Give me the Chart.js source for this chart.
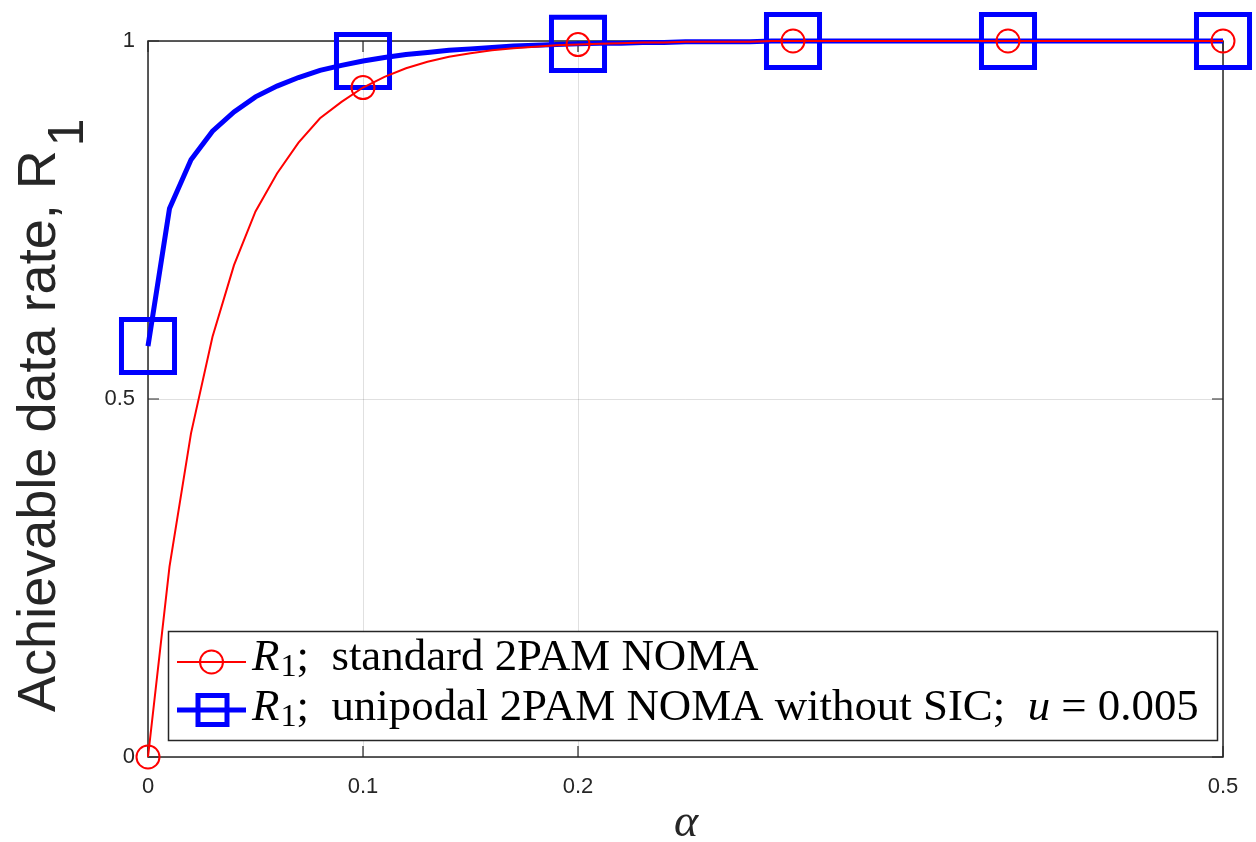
<!DOCTYPE html>
<html>
<head>
<meta charset="utf-8">
<script src="https://cdn.jsdelivr.net/npm/chart.js@4.4.1/dist/chart.umd.min.js"></script>
<style>
  html, body { margin: 0; padding: 0; background: #ffffff; }
  #wrap { width: 1256px; height: 842px; }
</style>
</head>
<body>
<div id="wrap"><canvas id="c" width="1256" height="842"></canvas></div>
<script>
// ---- data ----
const alpha = [0.00,0.01,0.02,0.03,0.04,0.05,0.06,0.07,0.08,0.09,
               0.10,0.11,0.12,0.13,0.14,0.15,0.16,0.17,0.18,0.19,
               0.20,0.21,0.22,0.23,0.24,0.25,0.26,0.27,0.28,0.29,
               0.30,0.31,0.32,0.33,0.34,0.35,0.36,0.37,0.38,0.39,
               0.40,0.41,0.42,0.43,0.44,0.45,0.46,0.47,0.48,0.49,0.50];
const r1Standard = [0.000,0.266,0.452,0.587,0.687,0.762,0.815,0.858,0.892,0.915,
                    0.935,0.950,0.962,0.971,0.978,0.983,0.987,0.990,0.992,0.994,
                    0.995,0.996,0.997,0.998,0.998,0.999,0.999,0.999,0.999,1.000,
                    1.000,1.000,1.000,1.000,1.000,1.000,1.000,1.000,1.000,1.000,
                    1.000,1.000,1.000,1.000,1.000,1.000,1.000,1.000,1.000,1.000,1.000];
const r1Unipodal = [0.574,0.766,0.834,0.874,0.901,0.922,0.937,0.949,0.959,0.966,
                    0.972,0.977,0.981,0.984,0.987,0.989,0.991,0.993,0.994,0.995,
                    0.996,0.997,0.997,0.998,0.998,0.999,0.999,0.999,0.999,1.000,
                    1.000,1.000,1.000,1.000,1.000,1.000,1.000,1.000,1.000,1.000,
                    1.000,1.000,1.000,1.000,1.000,1.000,1.000,1.000,1.000,1.000,1.000];
const xTicks = [0, 0.1, 0.2, 0.5];
const yTicks = [0, 0.5, 1];
const markerEvery = 10;
const legendRows = [
  [{t:'R', s:'i'}, {t:'1', s:'sub'}, {t:';  standard 2PAM NOMA', s:'r'}],
  [{t:'R', s:'i'}, {t:'1', s:'sub'}, {t:';  unipodal 2PAM NOMA without SIC;  ', s:'r'}, {t:'u', s:'i'}, {t:' = 0.005', s:'r'}]
];
const yTitleMain = 'Achievable data rate, R';
const yTitleSub = '1';
const xTitle = '\u03B1';

const AX = '#262626';
const RED = '#ff0000';
const BLUE = '#0000ff';

function pts(ys) { return alpha.map((a, i) => ({x: a, y: ys[i]})); }

const frame = {
  id: 'frame',
  beforeDatasetsDraw(chart) {
    const {ctx, chartArea: a, scales} = chart;
    ctx.save();
    ctx.strokeStyle = AX;
    ctx.lineWidth = 1.5;
    ctx.strokeRect(a.left, a.top, a.right - a.left, a.bottom - a.top);
    ctx.lineWidth = 1.2;
    const L = 11;
    ctx.beginPath();
    xTicks.forEach(v => {
      const px = scales.x.getPixelForValue(v);
      ctx.moveTo(px, a.bottom); ctx.lineTo(px, a.bottom - L);
      ctx.moveTo(px, a.top); ctx.lineTo(px, a.top + L);
    });
    yTicks.forEach(v => {
      const py = scales.y.getPixelForValue(v);
      ctx.moveTo(a.left, py); ctx.lineTo(a.left + L, py);
      ctx.moveTo(a.right, py); ctx.lineTo(a.right - L, py);
    });
    ctx.stroke();
    ctx.restore();
  },
  afterDraw(chart) {
    const ctx = chart.ctx;
    ctx.save();
    // y title
    ctx.translate(55, 712);
    ctx.rotate(-Math.PI / 2);
    ctx.fillStyle = AX;
    ctx.textBaseline = 'alphabetic';
    ctx.textAlign = 'left';
    ctx.font = '10px "Liberation Sans"';
    const w10 = ctx.measureText(yTitleMain).width;
    const fs = 10 * 562 / w10;
    ctx.font = fs.toFixed(2) + 'px "Liberation Sans"';
    ctx.fillText(yTitleMain, 0, 0);
    const wMain = ctx.measureText(yTitleMain).width;
    ctx.font = (fs * 0.92).toFixed(2) + 'px "Liberation Sans"';
    ctx.fillText(yTitleSub, wMain + 4, 28);
    ctx.restore();

    // x title
    ctx.save();
    ctx.fillStyle = AX;
    ctx.font = 'italic 46px "Liberation Serif"';
    ctx.textAlign = 'center';
    ctx.textBaseline = 'alphabetic';
    ctx.fillText(xTitle, 686, 836);
    ctx.restore();

    // legend
    ctx.save();
    const bx = 168.5, by = 631.5, bw = 1049, bh = 109;
    ctx.fillStyle = '#ffffff';
    ctx.fillRect(bx, by, bw, bh);
    ctx.strokeStyle = AX;
    ctx.lineWidth = 1.5;
    ctx.strokeRect(bx, by, bw, bh);
    // samples
    const rows = [662, 710];
    ctx.strokeStyle = RED; ctx.lineWidth = 2;
    ctx.beginPath(); ctx.moveTo(177, rows[0]); ctx.lineTo(246, rows[0]); ctx.stroke();
    ctx.beginPath(); ctx.arc(211.5, rows[0], 11.5, 0, Math.PI * 2); ctx.stroke();
    ctx.strokeStyle = BLUE; ctx.lineWidth = 5;
    ctx.beginPath(); ctx.moveTo(177, rows[1]); ctx.lineTo(246, rows[1]); ctx.stroke();
    ctx.lineWidth = 5;
    ctx.strokeRect(212.5 - 14.5, rows[1] - 14.5, 29, 29);
    // text
    ctx.fillStyle = '#000000';
    ctx.textAlign = 'left';
    ctx.textBaseline = 'alphabetic';
    const fontFor = (s, size) => s === 'i' ? 'italic ' + size + 'px "Liberation Serif"' :
                                 s === 'sub' ? (size * 0.72).toFixed(2) + 'px "Liberation Serif"' :
                                 size + 'px "Liberation Serif"';
    function rowWidth(row, size) {
      let w = 0;
      row.forEach(seg => { ctx.font = fontFor(seg.s, size); w += ctx.measureText(seg.t).width; });
      return w;
    }
    const size = +(30 * 946 / rowWidth(legendRows[1], 30)).toFixed(2);
    const baselines = [670, 720];
    legendRows.forEach((row, ri) => {
      let x = 252;
      row.forEach(seg => {
        ctx.font = fontFor(seg.s, size);
        const dy = seg.s === 'sub' ? 6 : 0;
        ctx.fillText(seg.t, x, baselines[ri] + dy);
        x += ctx.measureText(seg.t).width + (seg.s === 'i' && seg.t === 'R' ? 1 : 0);
      });
    });
    ctx.restore();
  }
};

const mk = (i) => i % markerEvery === 0;

new Chart(document.getElementById('c'), {
  type: 'line',
  data: {
    datasets: [
      {
        label: 'R1; standard 2PAM NOMA',
        data: pts(r1Standard),
        borderColor: RED,
        backgroundColor: 'rgba(0,0,0,0)',
        borderWidth: 2,
        pointStyle: 'circle',
        pointRadius: c => mk(c.dataIndex) ? 11.5 : 0,
        pointBorderWidth: 2,
        pointBorderColor: RED,
        pointBackgroundColor: 'rgba(0,0,0,0)',
        pointHoverRadius: 0,
        tension: 0,
        clip: false,
        order: 1
      },
      {
        label: 'R1; unipodal 2PAM NOMA without SIC; u = 0.005',
        data: pts(r1Unipodal),
        borderColor: BLUE,
        backgroundColor: 'rgba(0,0,0,0)',
        borderWidth: 5,
        pointStyle: 'rect',
        pointRadius: c => mk(c.dataIndex) ? 37.5 : 0,
        pointBorderWidth: 5,
        pointBorderColor: BLUE,
        pointBackgroundColor: 'rgba(0,0,0,0)',
        pointHoverRadius: 0,
        tension: 0,
        clip: false,
        order: 2
      }
    ]
  },
  options: {
    responsive: false,
    animation: false,
    events: [],
    layout: { autoPadding: false, padding: { left: 0, top: 41, right: 33, bottom: 0 } },
    plugins: { legend: { display: false }, tooltip: { enabled: false }, title: { display: false } },
    scales: {
      x: {
        type: 'linear', min: 0, max: 0.5,
        afterFit: s => { s.height = 85; s.paddingLeft = 0; s.paddingRight = 0; },
        afterBuildTicks: s => { s.ticks = xTicks.map(v => ({value: v})); },
        grid: { color: 'rgba(0,0,0,0.12)', lineWidth: 1, drawTicks: false },
        border: { display: false },
        ticks: {
          padding: 17, color: AX, maxRotation: 0, autoSkip: false,
          font: { family: '"Liberation Sans"', size: 22 },
          callback: v => String(v)
        }
      },
      y: {
        type: 'linear', min: 0, max: 1,
        afterFit: s => { s.width = 148; s.paddingTop = 0; s.paddingBottom = 0; },
        afterBuildTicks: s => { s.ticks = yTicks.map(v => ({value: v})); },
        grid: { color: 'rgba(0,0,0,0.12)', lineWidth: 1, drawTicks: false },
        border: { display: false },
        ticks: {
          padding: 13, color: AX,
          font: { family: '"Liberation Sans"', size: 22 },
          callback: v => String(v)
        }
      }
    }
  },
  plugins: [frame]
});
</script>
</body>
</html>
